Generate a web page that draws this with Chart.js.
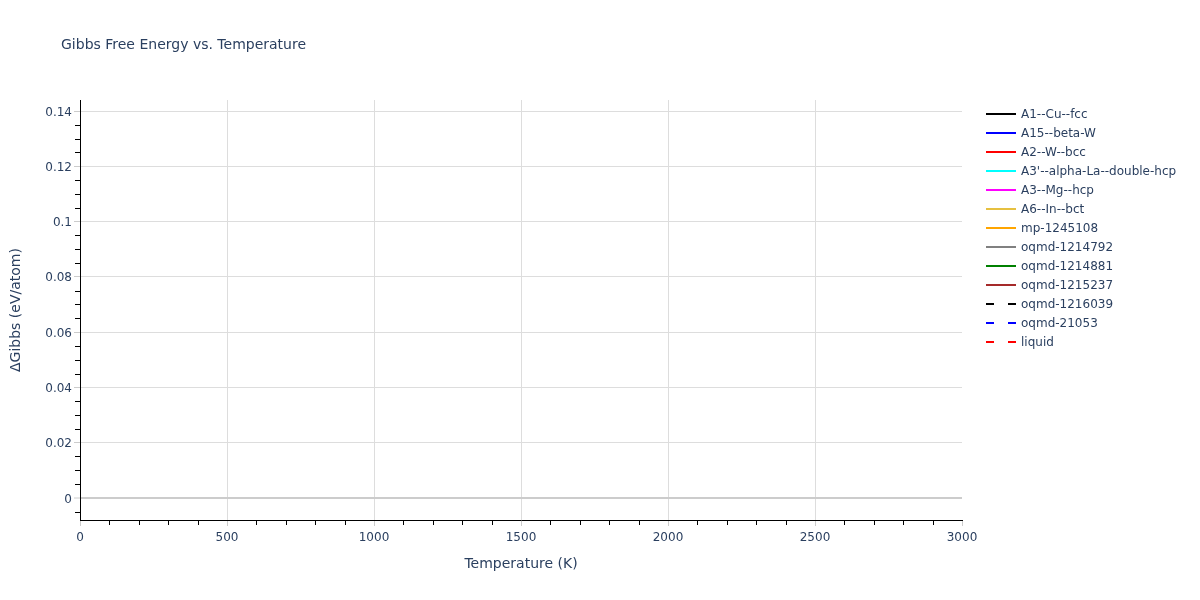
<!DOCTYPE html>
<html>
<head>
<meta charset="utf-8">
<script src="https://cdn.jsdelivr.net/npm/chart.js@4.4.1/dist/chart.umd.min.js"></script>
<style>
html,body{margin:0;padding:0;background:#fff;}
#wrap{width:1200px;height:600px;}
</style>
</head>
<body>
<div id="wrap"><canvas id="c" width="1200" height="600"></canvas></div>
<script>
// ---- data (the reference shows no plotted points, only an empty frame) ----
const phases = ["A1--Cu--fcc","A15--beta-W","A2--W--bcc","A3'--alpha-La--double-hcp","A3--Mg--hcp","A6--In--bct","mp-1245108","oqmd-1214792","oqmd-1214881","oqmd-1215237","oqmd-1216039","oqmd-21053","liquid"];
const temperatures = [];
const gA1 = [];
const gA15 = [];
const gA2 = [];
const gA3p = [];
const gA3 = [];
const gA6 = [];
const gMp1245108 = [];
const gOqmd1214792 = [];
const gOqmd1214881 = [];
const gOqmd1215237 = [];
const gOqmd1216039 = [];
const gOqmd21053 = [];
const gLiquid = [];
const seriesValues = [gA1,gA15,gA2,gA3p,gA3,gA6,gMp1245108,gOqmd1214792,gOqmd1214881,gOqmd1215237,gOqmd1216039,gOqmd21053,gLiquid];
const xTicks = [0,500,1000,1500,2000,2500,3000];
const xTickLabels = ["0","500","1000","1500","2000","2500","3000"];
const yTicks = [0,0.02,0.04,0.06,0.08,0.1,0.12,0.14];
const yTickLabels = ["0","0.02","0.04","0.06","0.08","0.1","0.12","0.14"];

// ---- styles ----
const lineColors = ["#000000","#0000ff","#ff0000","#00ffff","#ff00ff","#e6c040","#ffa500","#808080","#008000","#a52a2a","#000000","#0000ff","#ff0000"];
const dashed = [false,false,false,false,false,false,false,false,false,false,true,true,true];
const FONT = "'DejaVu Sans', Verdana, sans-serif";
const TXT = "#2a3f5f";

const datasets = phases.map((p, i) => ({
  label: p,
  data: seriesValues[i].map((v, j) => ({x: temperatures[j], y: v})),
  borderColor: lineColors[i],
  backgroundColor: lineColors[i],
  borderWidth: 2,
  borderDash: dashed[i] ? [8, 14] : [],
  pointRadius: 0,
  fill: false
}));

const decor = {
  id: 'decor',
  afterDraw(chart) {
    const ctx = chart.ctx;
    const xs = chart.scales.x, ys = chart.scales.y;
    const area = chart.chartArea;
    ctx.save();
    // minor ticks
    ctx.strokeStyle = '#000';
    ctx.lineWidth = 1;
    ctx.beginPath();
    for (let v = 100; v < xs.max; v += 100) {
      if (v % 500 === 0) continue;
      const px = Math.round(xs.getPixelForValue(v)) + 0.5;
      ctx.moveTo(px, area.bottom);
      ctx.lineTo(px, area.bottom + 5);
    }
    for (let k = -1; k * 0.005 <= ys.max; k++) {
      if (k % 4 === 0) continue;
      const py = Math.round(ys.getPixelForValue(k * 0.005)) + 0.5;
      ctx.moveTo(area.left, py);
      ctx.lineTo(area.left - 5, py);
    }
    ctx.stroke();
    // y tick labels
    ctx.fillStyle = TXT;
    ctx.font = "12px " + FONT;
    ctx.textBaseline = 'middle';
    ctx.textAlign = 'right';
    yTicks.forEach((v, i) => {
      ctx.fillText(yTickLabels[i], area.left - 8, ys.getPixelForValue(v) + 1.5);
    });
    // title
    ctx.font = "14px " + FONT;
    ctx.textAlign = 'left';
    ctx.fillText("Gibbs Free Energy vs. Temperature", 61, 45);
    // legend
    ctx.font = "12px " + FONT;
    chart.data.datasets.forEach((d, i) => {
      const y = 114 + 19 * i;
      ctx.strokeStyle = d.borderColor;
      ctx.lineWidth = 2;
      ctx.setLineDash(d.borderDash || []);
      ctx.beginPath();
      ctx.moveTo(986, y);
      ctx.lineTo(1016, y);
      ctx.stroke();
      ctx.setLineDash([]);
      ctx.fillStyle = TXT;
      ctx.fillText(d.label, 1021, y + 1);
    });
    ctx.restore();
  }
};

new Chart(document.getElementById('c'), {
  type: 'line',
  data: { datasets },
  options: {
    responsive: false,
    animation: false,
    events: [],
    layout: { padding: { left: 0, top: 100, right: 238, bottom: 0 } },
    plugins: { legend: { display: false }, title: { display: false }, tooltip: { enabled: false } },
    scales: {
      x: {
        type: 'linear', min: 0, max: 3000,
        afterBuildTicks: s => { s.ticks = xTicks.map(v => ({ value: v })); },
        afterFit: s => { s.height = 80; },
        grid: {
          color: c => (c.tick && c.tick.value === 3000) ? 'rgba(0,0,0,0)' : '#dddddd',
          tickColor: '#cccccc', tickLength: 6, lineWidth: 1, tickWidth: 1
        },
        border: { display: true, color: '#000', width: 1 },
        ticks: {
          color: TXT, font: { family: FONT, size: 12 }, padding: 5, maxRotation: 0, autoSkip: false,
          callback: (v, i) => xTickLabels[i]
        },
        title: { display: true, text: 'Temperature (K)', color: TXT, font: { family: FONT, size: 14 }, padding: { top: 0, bottom: 27 } }
      },
      y: {
        type: 'linear', min: -0.008, max: 0.144,
        afterBuildTicks: s => { s.ticks = yTicks.map(v => ({ value: v })); },
        afterFit: s => { s.width = 80; },
        grid: {
          color: c => (c.tick && c.tick.value === 0) ? '#cccccc' : '#dddddd',
          lineWidth: c => (c.tick && c.tick.value === 0) ? 2 : 1,
          tickColor: '#cccccc', tickLength: 6, tickWidth: 1
        },
        border: { display: true, color: '#000', width: 1 },
        ticks: { display: false },
        title: { display: true, text: 'ΔGibbs (eV/atom)', color: TXT, font: { family: FONT, size: 14 }, padding: { top: 8, bottom: 0 } }
      }
    }
  },
  plugins: [decor]
});
</script>
</body>
</html>
